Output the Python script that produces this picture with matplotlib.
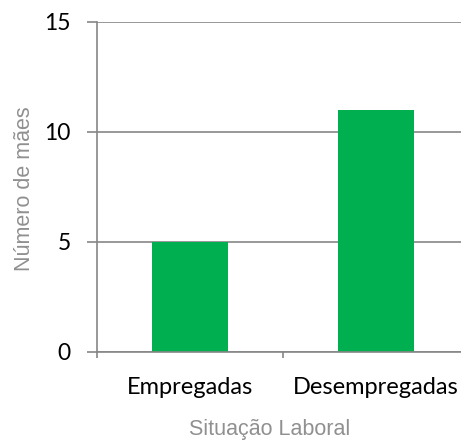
import matplotlib.pyplot as plt
import numpy as np

categorias = ['Empregadas', 'Desempregadas']
maes = [5, 11]
yticks = [0, 5, 10, 15]

cinza = '#868686'
verde = '#00B050'

fig = plt.figure(figsize=(4.61, 4.41), dpi=100)
ax = fig.add_axes([97/461, 89/441, 372/461, 330/441])

x = np.arange(len(categorias))
ax.bar(x, maes, width=0.41, color=verde, zorder=3)

ax.set_xlim(-0.5, 1.5)
ax.set_ylim(0, 15)
ax.set_yticks(yticks)
ax.set_yticklabels([str(v) for v in yticks], fontfamily='Lato', fontsize=16.5)
ax.yaxis.grid(True, color=cinza, linewidth=1.2, zorder=0)

# ticks de categoria nas fronteiras, rótulos no centro
ax.set_xticks([-0.5, 0.5, 1.5])
ax.set_xticklabels([])
ax.set_xticks(x, minor=True)
ax.set_xticklabels(categorias, minor=True, fontfamily='Lato', fontsize=17)
ax.tick_params(axis='x', which='major', length=4, width=1.2, color=cinza)
ax.tick_params(axis='x', which='minor', length=0, pad=18)
ax.tick_params(axis='y', length=7, width=1.2, color=cinza, pad=12)

for s in ['top', 'right']:
    ax.spines[s].set_visible(False)
for s in ['left', 'bottom']:
    ax.spines[s].set_color(cinza)
    ax.spines[s].set_linewidth(1.2)
    ax.spines[s].set_zorder(4)

# títulos dos eixos
fig.text(270/461, 1 - 435/441, 'Situação Laboral', family='Liberation Sans',
         fontsize=15.5, color='#909090', ha='center', va='baseline')
fig.text(24/461, 1 - 189/441, 'Número de mães', family='Liberation Sans',
         fontsize=15.5, color='#909090', ha='center', va='center', rotation=90)

fig.savefig('out.png', dpi=100)
